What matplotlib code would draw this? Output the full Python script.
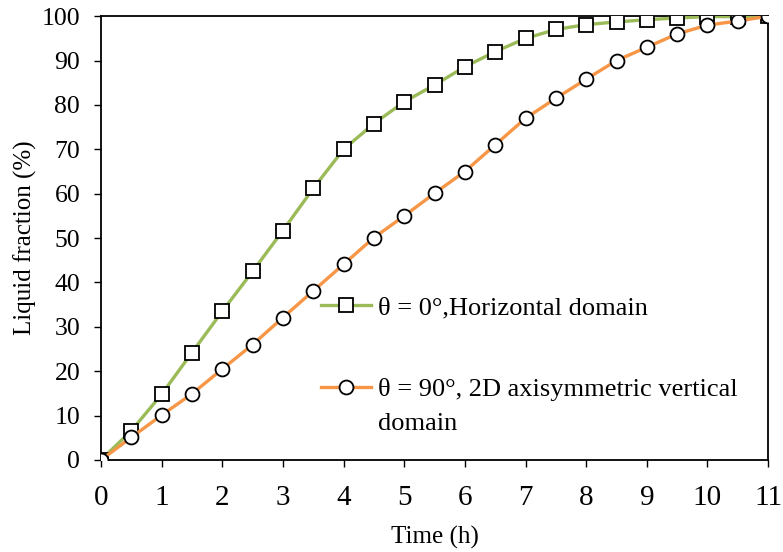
import matplotlib
matplotlib.use("Agg")
import matplotlib.pyplot as plt

plt.rcParams['font.family'] = ['Liberation Serif', 'DejaVu Serif']

time_h = [0, 0.5, 1, 1.5, 2, 2.5, 3, 3.5, 4, 4.5, 5, 5.5, 6, 6.5, 7, 7.5,
          8, 8.5, 9, 9.5, 10, 10.5, 11]
horizontal = [0, 6.6, 14.8, 24.2, 33.5, 42.5, 51.7, 61.2, 70.0, 75.8, 80.7,
              84.5, 88.6, 92.0, 95.0, 97.0, 98.1, 98.7, 99.2, 99.6, 99.9,
              99.9, 100]
vertical = [0, 5.1, 10.1, 14.9, 20.5, 26.0, 32.1, 38.1, 44.1, 50.1, 55.0,
            60.1, 65.0, 71.0, 77.0, 81.5, 85.8, 90.0, 93.0, 96.0, 98.0,
            98.9, 100]
label_h = "θ = 0°,Horizontal domain"
label_v = "θ = 90°, 2D axisymmetric vertical"
label_v2 = "domain"

green = '#9BBB59'
orange = '#F79646'

fig = plt.figure(figsize=(7.83, 5.52), dpi=100)
ax = fig.add_axes([0.129, 0.1667, 0.852, 0.804])

l1, = ax.plot(time_h, horizontal, color=green, lw=2.4, marker='s', ms=10,
              mfc='white', mec='black', mew=1.3, label=label_h, zorder=3)
l2, = ax.plot(time_h, vertical, color=orange, lw=2.4, marker='o', ms=10,
              mfc='white', mec='black', mew=1.3, label=label_v, zorder=4)

ax.set_xlim(0, 11)
ax.set_ylim(0, 100)
ax.set_xticks(range(0, 12))
ax.set_yticks(range(0, 101, 10))
ax.tick_params(axis='x', direction='out', length=5, width=1, labelsize=21, pad=13)
ax.tick_params(axis='y', direction='out', length=5, width=1, labelsize=18.5, pad=10)
for s in ax.spines.values():
    s.set_linewidth(1.3)

ax.set_xlabel("Time (h)", fontsize=18, labelpad=11)
ax.set_ylabel("Liquid fraction (%)", fontsize=18, labelpad=3)

leg = ax.legend(handles=[l1, l2], loc='upper left', bbox_to_anchor=(0.33, 0.37),
                frameon=False, fontsize=19, handlelength=1.9,
                handletextpad=0.25, labelspacing=2.2, borderpad=0,
                borderaxespad=0)

fig.canvas.draw()
bb = leg.get_texts()[1].get_window_extent()
x0, y0 = ax.transAxes.inverted().transform((bb.x0, bb.y0))
ax.text(x0, y0 - 0.027, label_v2, transform=ax.transAxes, fontsize=19,
        va='top', ha='left')

fig.savefig("out.png", dpi=100)
